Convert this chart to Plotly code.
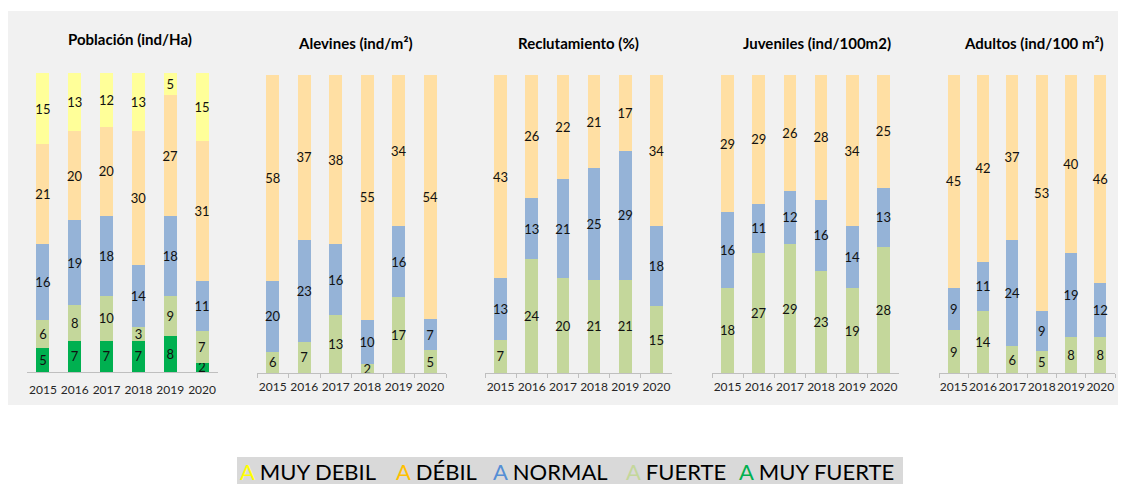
import plotly.graph_objects as go

# page body has an 8px margin: the figure is placed at (8, 8) in the window
OFF = 8
W, H = 1118, 476
FONT = "Lato"

years = ["2015", "2016", "2017", "2018", "2019", "2020"]

# Población (ind/Ha)
pob_muy_fuerte = [5, 7, 7, 7, 8, 2]
pob_fuerte = [6, 8, 10, 3, 9, 7]
pob_normal = [16, 19, 18, 14, 18, 11]
pob_debil = [21, 20, 20, 30, 27, 31]
pob_muy_debil = [15, 13, 12, 13, 5, 15]

# Alevines (ind/m²)
ale_fuerte = [6, 7, 13, 2, 17, 5]
ale_normal = [20, 23, 16, 10, 16, 7]
ale_debil = [58, 37, 38, 55, 34, 54]

# Reclutamiento (%)
rec_fuerte = [7, 24, 20, 21, 21, 15]
rec_normal = [13, 13, 21, 25, 29, 18]
rec_debil = [43, 26, 22, 21, 17, 34]

# Juveniles (ind/100m2)
juv_fuerte = [18, 27, 29, 23, 19, 28]
juv_normal = [16, 11, 12, 16, 14, 13]
juv_debil = [29, 29, 26, 28, 34, 25]

# Adultos (ind/100 m²)
adu_fuerte = [9, 14, 6, 5, 8, 8]
adu_normal = [9, 11, 24, 9, 19, 12]
adu_debil = [45, 42, 37, 53, 40, 46]

titles = ["Población (ind/Ha)", "Alevines (ind/m²)", "Reclutamiento (%)",
          "Juveniles (ind/100m2)", "Adultos (ind/100 m²)"]
legend_names = ["MUY DEBIL", "DÉBIL", "NORMAL", "FUERTE", "MUY FUERTE"]

COL = {
    "MUY FUERTE": "#00B050",
    "FUERTE": "#C4D79B",
    "NORMAL": "#95B3D7",
    "DÉBIL": "#FFDFA3",
    "MUY DEBIL": "#FFFF99",
}
LEG_COL = {
    "MUY DEBIL": "#FFFF00",
    "DÉBIL": "#FFC000",
    "NORMAL": "#558ED5",
    "FUERTE": "#C4D79B",
    "MUY FUERTE": "#00B050",
}

panels = [
    [("MUY FUERTE", pob_muy_fuerte), ("FUERTE", pob_fuerte), ("NORMAL", pob_normal),
     ("DÉBIL", pob_debil), ("MUY DEBIL", pob_muy_debil)],
    [("FUERTE", ale_fuerte), ("NORMAL", ale_normal), ("DÉBIL", ale_debil)],
    [("FUERTE", rec_fuerte), ("NORMAL", rec_normal), ("DÉBIL", rec_debil)],
    [("FUERTE", juv_fuerte), ("NORMAL", juv_normal), ("DÉBIL", juv_debil)],
    [("FUERTE", adu_fuerte), ("NORMAL", adu_normal), ("DÉBIL", adu_debil)],
]

# layout in window pixels: (x_left, x_right, y_bottom, y_top, title_x, title_y)
geom = [
    (27, 218, 372, 73, 129.5, 39),
    (257, 446, 373, 75, 355, 43),
    (485, 672, 373, 75, 578, 43),
    (712, 899, 373, 75, 817, 43),
    (939, 1115, 373, 75, 1034, 43),
]


def px(x):
    return (x - OFF) / W


def py(y):
    return 1 - (y - OFF) / H


fig = go.Figure()
layout = {}
annotations = []

for i, (series, g) in enumerate(zip(panels, geom)):
    n = "" if i == 0 else str(i + 1)
    for name, vals in series:
        fig.add_trace(go.Bar(
            x=years, y=vals, name=name, text=[str(v) for v in vals],
            textposition="inside", insidetextanchor="middle", textangle=0,
            textfont=dict(family=FONT, size=13, color="#111111"),
            marker=dict(color=COL[name], line=dict(width=0)),
            xaxis="x" + n, yaxis="y" + n, showlegend=False,
        ))
    xl, xr, yb, yt, tx, ty = g
    layout["xaxis" + n] = dict(
        domain=[px(xl), px(xr)], anchor="y" + n, type="category",
        range=[-0.5, 5.5], showline=True, linecolor="#BFBFBF", linewidth=1,
        ticks="" if i == 0 else "outside", tickson="boundaries", ticklen=4,
        tickcolor="#BFBFBF", showgrid=False, zeroline=False, tickangle=0,
        automargin=False, ticklabelstandoff=7 if i == 0 else 3,
        tickfont=dict(family=FONT, size=12, color="#262626"),
    )
    layout["yaxis" + n] = dict(
        domain=[py(yb), py(yt)], anchor="x" + n, range=[0, 100],
        visible=False, showgrid=False, zeroline=False, automargin=False,
    )
    annotations.append(dict(
        x=px(tx), y=py(ty), xref="paper", yref="paper", text="<b>" + titles[i] + "</b>",
        showarrow=False, xanchor="center", yanchor="middle",
        font=dict(family=FONT, size=15, color="#000000"),
    ))

# legend (text-based, as in the source)
leg_x = [238, 394, 491, 624, 737]
for name, x in zip(legend_names, leg_x):
    annotations.append(dict(
        x=px(x), y=py(471), xref="paper", yref="paper",
        text="<span style='color:%s'>A</span> %s" % (LEG_COL[name], name),
        showarrow=False, xanchor="left", yanchor="middle",
        font=dict(family=FONT, size=22, color="#000000"),
    ))

shapes = [
    dict(type="rect", xref="paper", yref="paper", x0=px(8), x1=px(1120),
         y0=py(405), y1=py(11), fillcolor="#F1F1F1", line=dict(width=0), layer="below"),
    dict(type="rect", xref="paper", yref="paper", x0=px(237), x1=px(903),
         y0=py(484), y1=py(457), fillcolor="#D9D9D9", line=dict(width=0), layer="below"),
]

fig.update_layout(
    width=W, height=H, margin=dict(l=0, r=0, t=0, b=0, autoexpand=False),
    paper_bgcolor="white", plot_bgcolor="rgba(0,0,0,0)",
    barmode="stack", barnorm="percent", bargap=0.59,
    uniformtext=dict(minsize=13, mode="show"),
    annotations=annotations, shapes=shapes, showlegend=False,
    **layout,
)

fig.write_html("out.html")
